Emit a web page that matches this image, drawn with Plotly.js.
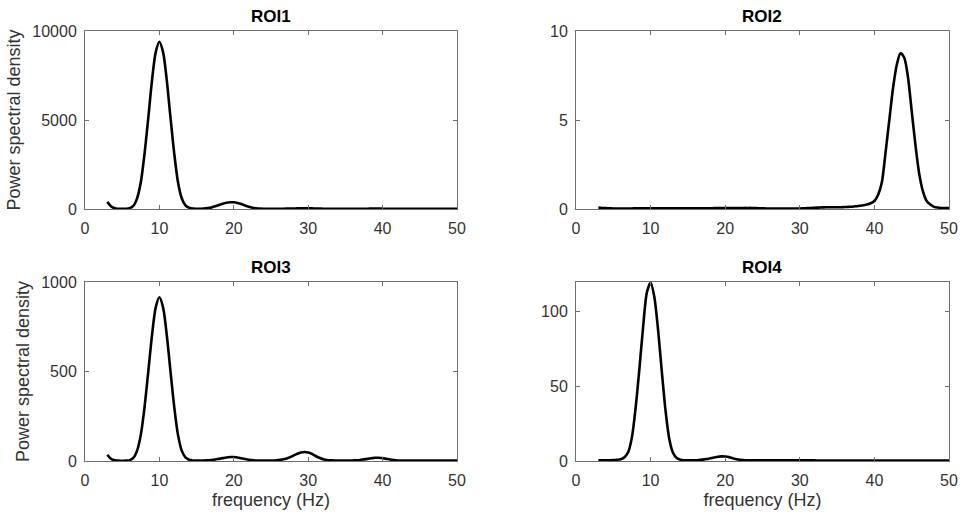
<!DOCTYPE html>
<html>
<head>
<meta charset="utf-8">
<script src="https://cdn.plot.ly/plotly-3.0.1.min.js"></script>
<style>html,body{margin:0;padding:0;background:#fff;}#chart{width:960px;height:514px;}</style>
</head>
<body>
<div id="chart"></div>
<script>
// Frequency grid (Hz), 3 to 50 in 0.5 Hz steps
const freq = [3,3.5,4,4.5,5,5.5,6,6.5,7,7.5,8,8.5,9,9.5,10,10.5,11,11.5,12,12.5,13,13.5,14,14.5,15,15.5,16,16.5,17,17.5,18,18.5,19,19.5,20,20.5,21,21.5,22,22.5,23,23.5,24,24.5,25,25.5,26,26.5,27,27.5,28,28.5,29,29.5,30,30.5,31,31.5,32,32.5,33,33.5,34,34.5,35,35.5,36,36.5,37,37.5,38,38.5,39,39.5,40,40.5,41,41.5,42,42.5,43,43.5,44,44.5,45,45.5,46,46.5,47,47.5,48,48.5,49,49.5,50];

const roi1 = [400,150,40,15,10,15,50,180,600,1500,3100,5100,7200,8800,9400,8800,7200,5100,3100,1500,600,200,70,25,15,15,25,50,90,150,230,300,355,380,375,340,280,200,130,75,40,20,12,10,10,10,12,15,20,25,30,35,38,40,38,34,28,22,16,12,10,10,10,10,10,10,10,12,14,16,18,20,20,20,18,15,12,10,8,7,6,5,5,5,5,5,5,5,5,5,5,5,5,5,5];

const roi2 = [0.08,0.06,0.05,0.04,0.03,0.03,0.03,0.03,0.03,0.03,0.04,0.04,0.04,0.04,0.04,0.04,0.04,0.04,0.04,0.04,0.04,0.04,0.04,0.04,0.04,0.04,0.04,0.04,0.04,0.04,0.04,0.05,0.05,0.05,0.05,0.05,0.05,0.05,0.05,0.06,0.06,0.06,0.05,0.04,0.04,0.03,0.03,0.03,0.03,0.03,0.03,0.03,0.03,0.03,0.03,0.04,0.05,0.06,0.07,0.08,0.09,0.1,0.1,0.1,0.1,0.1,0.11,0.12,0.13,0.15,0.18,0.21,0.25,0.32,0.45,0.8,1.5,3.2,5.0,6.8,8.1,8.75,8.5,7.4,5.5,3.6,2.0,1.0,0.45,0.25,0.12,0.08,0.06,0.05,0.05];

const roi3 = [35,12,4,2,1,2,5,17,58,146,300,497,700,857,915,857,700,497,300,146,58,20,7,3,2,2,3,4,5,8,12,16,20,22,22,20,15,11,7,5,3,2,2,2,2,3,5,8,12,20,30,40,48,50,48,40,28,18,10,6,4,3,2,2,2,2,3,4,6,9,12,15,18,18,16,12,8,5,3,2,2,2,2,2,2,2,2,2,2,2,2,2,2,2,2];

const roi4 = [0.5,0.5,0.5,0.5,0.6,0.8,1.2,2.5,6,16,36,62,90,113,119.5,110,88,60,34,15,5.5,2,0.8,0.5,0.4,0.4,0.5,0.7,0.9,1.3,1.8,2.3,2.8,3.1,3.0,2.6,1.8,1.2,0.8,0.6,0.4,0.4,0.4,0.4,0.4,0.4,0.4,0.4,0.4,0.5,0.5,0.5,0.5,0.5,0.5,0.5,0.4,0.4,0.4,0.3,0.3,0.3,0.3,0.3,0.3,0.3,0.3,0.3,0.3,0.3,0.3,0.3,0.3,0.3,0.3,0.3,0.3,0.3,0.3,0.3,0.3,0.3,0.3,0.3,0.3,0.3,0.3,0.3,0.3,0.3,0.3,0.3,0.3,0.3,0.3];

const titles = ["ROI1","ROI2","ROI3","ROI4"];
const yRanges = [[0,10000],[0,10],[0,1000],[0,120]];
const yTicks = [[0,5000,10000],[0,5,10],[0,500,1000],[0,50,100]];
const xTicks = [0,10,20,30,40,50];
const yLabel = "Power spectral density";
const xLabel = "frequency (Hz)";

const series = [roi1, roi2, roi3, roi4];
const FONT = "Liberation Sans, Arial, sans-serif";
const axisColor = "#6e6e6e";
const textColor = "#333333";

const xDomains = [[85/960, 457/960],[576/960, 949/960]];
const yDomains = [[1-209/514, 1-31/514],[1-461/514, 1-282/514]];

const traces = series.map((s, i) => ({
  x: freq, y: s, type: 'scatter', mode: 'lines',
  line: {color: '#000', width: 2.6, shape: 'spline', smoothing: 0.8},
  xaxis: 'x' + (i+1), yaxis: 'y' + (i+1),
  showlegend: false, hoverinfo: 'skip'
}));

const layout = {
  width: 960, height: 514,
  margin: {l: 0, r: 0, t: 0, b: 0},
  paper_bgcolor: '#fff', plot_bgcolor: '#fff',
  font: {family: FONT, color: textColor, size: 16},
  showlegend: false,
  annotations: []
};

for (let i = 0; i < 4; i++) {
  const col = i % 2, row = Math.floor(i / 2);
  const xa = {
    domain: xDomains[col], anchor: 'y' + (i+1), range: [0, 50],
    tickmode: 'array', tickvals: xTicks, ticktext: xTicks.map(String),
    ticks: 'inside', ticklen: 4, tickwidth: 1, tickcolor: axisColor,
    showline: true, linecolor: axisColor, linewidth: 1, mirror: 'ticks',
    showgrid: false, zeroline: false,
    tickfont: {family: FONT, size: 16, color: textColor},
    ticklabelstandoff: 5
  };
  if (row === 1) {
    xa.title = {text: xLabel, font: {family: FONT, size: 18, color: textColor}, standoff: 5};
  }
  const ya = {
    domain: yDomains[row], anchor: 'x' + (i+1), range: yRanges[i],
    tickmode: 'array', tickvals: yTicks[i], ticktext: yTicks[i].map(String),
    ticks: 'inside', ticklen: 4, tickwidth: 1, tickcolor: axisColor,
    showline: true, linecolor: axisColor, linewidth: 1, mirror: 'ticks',
    showgrid: false, zeroline: false,
    tickfont: {family: FONT, size: 16, color: textColor},
    ticklabelstandoff: 4
  };
  if (col === 0) {
    ya.title = {text: yLabel, font: {family: FONT, size: 18, color: textColor}, standoff: 6};
  }
  layout['xaxis' + (i+1)] = xa;
  layout['yaxis' + (i+1)] = ya;
  const xd = xDomains[col], yd = yDomains[row];
  layout.annotations.push({
    text: '<b>' + titles[i] + '</b>', xref: 'paper', yref: 'paper',
    x: (xd[0] + xd[1]) / 2, y: yd[1], xanchor: 'center', yanchor: 'bottom',
    yshift: 3, showarrow: false,
    font: {family: FONT, size: 17, color: '#000'}
  });
}

Plotly.newPlot('chart', traces, layout, {staticPlot: true, displayModeBar: false});
</script>
</body>
</html>
